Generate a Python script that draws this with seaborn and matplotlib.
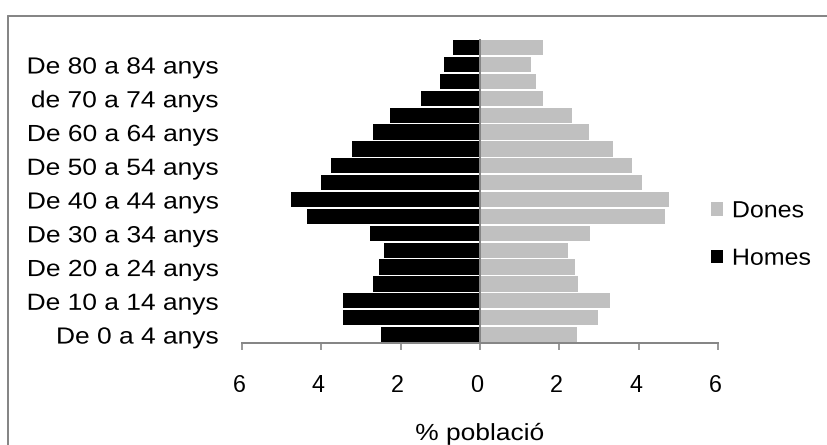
import matplotlib
matplotlib.use("Agg")
import matplotlib.pyplot as plt
import numpy as np
import pandas as pd
import seaborn as sns
from matplotlib.lines import Line2D
from matplotlib.patches import Patch
from matplotlib.patheffects import AbstractPathEffect
from matplotlib.transforms import Affine2D, ScaledTranslation

# Age groups, youngest first
edats = [
    "De 0 a 4 anys", "De 5 a 9 anys", "De 10 a 14 anys", "De 15 a 19 anys",
    "De 20 a 24 anys", "De 25 a 29 anys", "De 30 a 34 anys", "De 35 a 39 anys",
    "De 40 a 44 anys", "De 45 a 49 anys", "De 50 a 54 anys", "De 55 a 59 anys",
    "De 60 a 64 anys", "De 65 a 69 anys", "de 70 a 74 anys", "De 75 a 79 anys",
    "De 80 a 84 anys", "De 85 anys i més",
]
# Share of the population (%) per age group
homes = [2.49, 3.45, 3.45, 2.69, 2.54, 2.41, 2.77, 4.36, 4.76, 4.00,
         3.75, 3.22, 2.69, 2.26, 1.50, 1.00, 0.90, 0.67]
dones = [2.45, 2.98, 3.28, 2.47, 2.40, 2.22, 2.78, 4.67, 4.77, 4.09,
         3.84, 3.36, 2.75, 2.32, 1.59, 1.41, 1.28, 1.59]
# Only every other group gets a label on the axis
edats_etiquetades = edats[0:17:2]
xticks = [-6, -4, -2, 0, 2, 4, 6]
xtick_labels = ["6", "4", "2", "0", "2", "4", "6"]
series = ["Dones", "Homes"]
colors = {"Dones": "#C0C0C0", "Homes": "#000000"}
GRIS = "#868686"


class Widen(AbstractPathEffect):
    """Draw text glyphs a little wider, keeping one edge fixed."""

    def __init__(self, factor, anchor="center"):
        super().__init__()
        self._factor = factor
        self._anchor = anchor

    def draw_path(self, renderer, gc, tpath, affine, rgbFace=None):
        box = tpath.get_extents(affine)
        if self._anchor == "left":
            x0 = box.x0
        elif self._anchor == "right":
            x0 = box.x1
        else:
            x0 = 0.5 * (box.x0 + box.x1)
        wide = affine + Affine2D().translate(-x0, 0).scale(self._factor, 1.0).translate(x0, 0)
        renderer.draw_path(gc, tpath, wide, rgbFace)


sns.set_theme(style="white")
plt.rcParams["font.family"] = ["Liberation Sans", "DejaVu Sans"]
plt.rcParams["text.color"] = "black"
plt.rcParams["xtick.color"] = "black"
plt.rcParams["ytick.color"] = "black"
FS = 16.8

df = pd.DataFrame({
    "Edat": edats * 2,
    "Sexe": ["Homes"] * len(edats) + ["Dones"] * len(edats),
    "pct": [-v for v in homes] + list(dones),
})

fig = plt.figure(figsize=(8.27, 4.45), dpi=100)
ax = fig.add_axes([242 / 827, 102 / 445, 476 / 827, 303.8 / 445])

sns.barplot(
    data=df, x="pct", y="Edat", hue="Sexe", order=edats[::-1],
    hue_order=series, palette=colors, dodge=False, width=0.9,
    orient="h", errorbar=None, saturation=1, linewidth=0,
    legend=False, ax=ax,
)

ax.set_xlim(-6, 6)
ax.set_ylim(len(edats) - 0.5, -0.5)
ax.axvline(0, color=GRIS, lw=1.44, zorder=3)

for side in ["top", "right", "left"]:
    ax.spines[side].set_visible(False)
ax.spines["bottom"].set_color(GRIS)
ax.spines["bottom"].set_linewidth(1.44)

ax.set_xticks(xticks)
ax.set_xticklabels(xtick_labels, fontsize=FS)
ax.tick_params(axis="x", bottom=True, direction="out", length=5, width=1.2,
               color=GRIS, labelcolor="black", pad=17)
shift = ScaledTranslation(-3 / 100, 0, fig.dpi_scale_trans)
for lab in ax.get_xticklabels():
    lab.set_transform(lab.get_transform() + shift)

ypos = [len(edats) - 1 - edats.index(e) for e in edats_etiquetades]
ax.set_yticks(ypos)
ax.set_yticklabels(edats_etiquetades, fontsize=FS)
ax.tick_params(axis="y", left=False, length=0, pad=16.5)
for lab in ax.get_yticklabels():
    lab.set_path_effects([Widen(1.13, "right")])

ax.set_xlabel("")
ax.set_ylabel("")
fig.text(480 / 827, 5 / 445, "% població", ha="center", va="baseline",
         fontsize=FS, path_effects=[Widen(1.13, "center")])

handles = [Patch(facecolor=colors[s], edgecolor="none", label=s) for s in series]
leg = fig.legend(
    handles=handles, loc="center left", bbox_to_anchor=(711 / 827, 1 - 234.5 / 445),
    frameon=False, fontsize=FS, handlelength=0.52, handleheight=0.52,
    handletextpad=0.38, labelspacing=1.05, borderpad=0, borderaxespad=0,
)
for t in leg.get_texts():
    t.set_path_effects([Widen(1.07, "left")])

# Chart area border
fig.add_artist(Line2D([8 / 827, 8 / 827], [0, 1 - 16 / 445], transform=fig.transFigure,
                      color=GRIS, lw=1.44))
fig.add_artist(Line2D([8 / 827, 1], [1 - 16 / 445, 1 - 16 / 445], transform=fig.transFigure,
                      color=GRIS, lw=1.44))

fig.savefig("out.png", dpi=100)
